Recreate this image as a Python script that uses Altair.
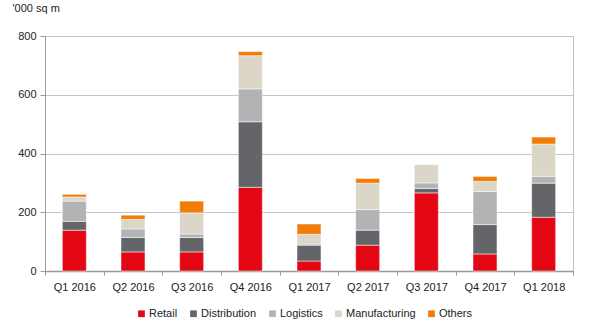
import altair as alt
import pandas as pd

quarters = ["Q1 2016", "Q2 2016", "Q3 2016", "Q4 2016", "Q1 2017",
            "Q2 2017", "Q3 2017", "Q4 2017", "Q1 2018"]
categories = ["Retail", "Distribution", "Logistics", "Manufacturing", "Others"]
colors = ["#E30613", "#636569", "#B1B3B5", "#DCD6C8", "#F07D0A"]

retail = [139, 65, 65, 285, 34, 88, 266, 58, 183]
distribution = [30, 49, 49, 223, 54, 51, 15, 100, 116]
logistics = [69, 29, 12, 112, 4, 70, 19, 113, 23]
manufacturing = [14, 33, 72, 113, 33, 90, 63, 34, 110]
others = [9, 14, 40, 14, 35, 16, 0, 17, 24]

series = [retail, distribution, logistics, manufacturing, others]
rows = []
for ci, (cat, vals) in enumerate(zip(categories, series)):
    for q, v in zip(quarters, vals):
        rows.append({"quarter": q, "type": cat, "value": v, "order": ci})
df = pd.DataFrame(rows)

font = "Liberation Sans"

chart = alt.Chart(df).mark_bar(size=24, stroke="white", strokeWidth=0.5).encode(
    x=alt.X("quarter:N", sort=quarters, title=None,
            scale=alt.Scale(paddingInner=0, paddingOuter=0),
            axis=alt.Axis(labelAngle=0, tickBand="extent", domainColor="#999999",
                          domainWidth=1.5, tickColor="#999999", tickSize=4,
                          labelColor="#222222", labelFontSize=11, labelPadding=6,
                          grid=False, labelFont=font)),
    y=alt.Y("value:Q", title="'000 sq m",
            scale=alt.Scale(domain=[0, 800]),
            axis=alt.Axis(values=[0, 200, 400, 600, 800], domainColor="#999999",
                          tickColor="#999999", tickSize=5, gridColor="#c4c4c4",
                          labelColor="#222222", labelFontSize=11, labelFont=font,
                          labelPadding=4,
                          titleAngle=0, titleAlign="left", titleBaseline="middle",
                          titleX=-33, titleY=-28, titleFont=font, titleFontSize=11,
                          titleFontWeight="normal", titleColor="#222222")),
    color=alt.Color("type:N", sort=categories,
                    scale=alt.Scale(domain=categories, range=colors),
                    legend=alt.Legend(title=None, orient="none", direction="horizontal",
                                      legendX=91, legendY=272, symbolType="square",
                                      symbolSize=45, symbolStrokeWidth=0,
                                      labelFont=font, labelFontSize=11,
                                      labelColor="#222222", columnPadding=10,
                                      labelOffset=2)),
    order=alt.Order("order:Q", sort="ascending"),
).properties(
    width=528, height=235,
    autosize=alt.AutoSizeParams(type="none"),
    padding={"left": 45, "top": 36, "right": 27, "bottom": 56},
).configure_view(
    stroke="#c0c0c0", strokeWidth=1
)

chart.save("out.html", embed_options={"renderer": "svg", "actions": False})
